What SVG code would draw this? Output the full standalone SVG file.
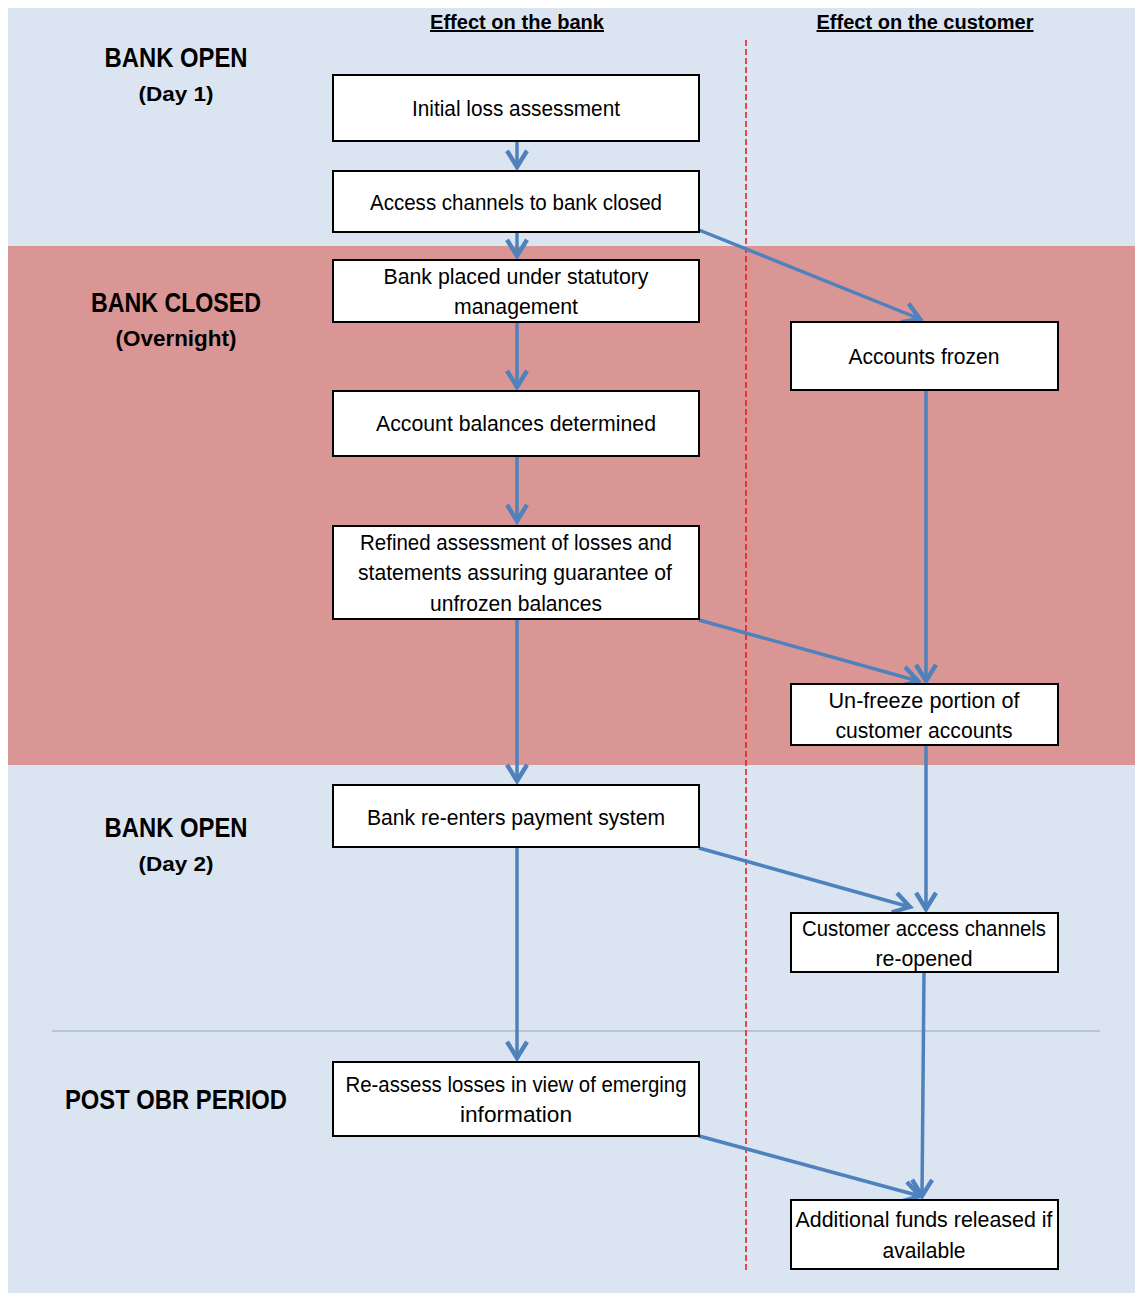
<svg xmlns="http://www.w3.org/2000/svg" width="1135" height="1293" viewBox="0 0 1135 1293">
<style>
.box{fill:#fff;stroke:#000;stroke-width:2}
.t{font-family:"Liberation Sans",Arial,sans-serif;font-size:22px;fill:#000;text-anchor:middle}
.lb{font-family:"Liberation Sans",Arial,sans-serif;font-weight:bold;fill:#000;text-anchor:middle}
.hd{font-family:"Liberation Sans",Arial,sans-serif;font-weight:bold;font-size:20px;fill:#000;text-anchor:middle;text-decoration:underline}
.c{fill:none;stroke:#4F81BD;stroke-width:3.5;marker-end:url(#ah)}
</style>
<defs>
<marker id="ah" markerUnits="userSpaceOnUse" markerWidth="30" markerHeight="30" viewBox="-16 -12 20 24" refX="0" refY="0" orient="auto">
<path d="M-13,-8 L0,0 L-13,8" fill="none" stroke="#4F81BD" stroke-width="3.5" stroke-linejoin="miter"/>
</marker>
</defs>
<rect x="0" y="0" width="1135" height="1293" fill="#fff"/>
<rect x="8" y="8" width="1127" height="1285" fill="#DBE5F1"/>
<rect x="8" y="246" width="1127" height="519" fill="#D99694"/>
<line x1="52" y1="1031" x2="1100" y2="1031" stroke="#9AA6B4" stroke-width="1.2"/>
<line x1="746" y1="40" x2="746" y2="1270" stroke="#E8161B" stroke-width="1.5" stroke-dasharray="6,3"/>

<g id="headers">
<text class="hd" x="517" y="29" textLength="174" lengthAdjust="spacingAndGlyphs">Effect on the bank</text>
<text class="hd" x="925" y="29" textLength="217" lengthAdjust="spacingAndGlyphs">Effect on the customer</text>
</g>
<g id="phase-labels">
<text class="lb" x="176" y="67" font-size="28" textLength="143" lengthAdjust="spacingAndGlyphs">BANK OPEN</text>
<text class="lb" x="176" y="101" font-size="21" textLength="75" lengthAdjust="spacingAndGlyphs">(Day 1)</text>
<text class="lb" x="176" y="312" font-size="28" textLength="170" lengthAdjust="spacingAndGlyphs">BANK CLOSED</text>
<text class="lb" x="176" y="346" font-size="22" textLength="121" lengthAdjust="spacingAndGlyphs">(Overnight)</text>
<text class="lb" x="176" y="837" font-size="28" textLength="143" lengthAdjust="spacingAndGlyphs">BANK OPEN</text>
<text class="lb" x="176" y="871" font-size="21" textLength="75" lengthAdjust="spacingAndGlyphs">(Day 2)</text>
<text class="lb" x="176" y="1109" font-size="28" textLength="222" lengthAdjust="spacingAndGlyphs">POST OBR PERIOD</text>
</g>

<g id="connectors">
<path class="c" d="M517,141 L517,167"/>
<path class="c" d="M517,232 L517,256"/>
<path class="c" d="M517,322 L517,387"/>
<path class="c" d="M517,456 L517,521"/>
<path class="c" d="M517,619 L517,781"/>
<path class="c" d="M517,847 L517,1058"/>
<path class="c" d="M699,230 L920,319"/>
<path class="c" d="M926,390 L926,681"/>
<path class="c" d="M699,620 L918,681"/>
<path class="c" d="M926,745 L926,909"/>
<path class="c" d="M699,848 L910,907"/>
<path class="c" d="M924,972 L922,1196"/>
<path class="c" d="M699,1136 L920,1196"/>
</g>

<g id="n1"><rect class="box" x="333" y="75" width="366" height="66"/><text class="t" x="516" y="116" textLength="208" lengthAdjust="spacingAndGlyphs">Initial loss assessment</text></g>
<g id="n2"><rect class="box" x="333" y="171" width="366" height="61"/><text class="t" x="516" y="210" textLength="292" lengthAdjust="spacingAndGlyphs">Access channels to bank closed</text></g>
<g id="n3"><rect class="box" x="333" y="260" width="366" height="62"/><text class="t" x="516" y="284" textLength="265" lengthAdjust="spacingAndGlyphs">Bank placed under statutory</text><text class="t" x="516" y="314" textLength="124" lengthAdjust="spacingAndGlyphs">management</text></g>
<g id="n4"><rect class="box" x="333" y="391" width="366" height="65"/><text class="t" x="516" y="431" textLength="280" lengthAdjust="spacingAndGlyphs">Account balances determined</text></g>
<g id="n5"><rect class="box" x="333" y="526" width="366" height="93"/><text class="t" x="516" y="550" textLength="312" lengthAdjust="spacingAndGlyphs">Refined assessment of losses and</text><text class="t" x="515" y="580" textLength="314" lengthAdjust="spacingAndGlyphs">statements assuring guarantee of</text><text class="t" x="516" y="611" textLength="172" lengthAdjust="spacingAndGlyphs">unfrozen balances</text></g>
<g id="n6"><rect class="box" x="333" y="785" width="366" height="62"/><text class="t" x="516" y="825" textLength="298" lengthAdjust="spacingAndGlyphs">Bank re-enters payment system</text></g>
<g id="n7"><rect class="box" x="333" y="1062" width="366" height="74"/><text class="t" x="516" y="1092" textLength="341" lengthAdjust="spacingAndGlyphs">Re-assess losses in view of emerging</text><text class="t" x="516" y="1122" textLength="112" lengthAdjust="spacingAndGlyphs">information</text></g>
<g id="c1"><rect class="box" x="791" y="322" width="267" height="68"/><text class="t" x="924" y="364" textLength="151" lengthAdjust="spacingAndGlyphs">Accounts frozen</text></g>
<g id="c2"><rect class="box" x="791" y="684" width="267" height="61"/><text class="t" x="924" y="708" textLength="191" lengthAdjust="spacingAndGlyphs">Un-freeze portion of</text><text class="t" x="924" y="738" textLength="177" lengthAdjust="spacingAndGlyphs">customer accounts</text></g>
<g id="c3"><rect class="box" x="791" y="913" width="267" height="59"/><text class="t" x="924" y="936" textLength="244" lengthAdjust="spacingAndGlyphs">Customer access channels</text><text class="t" x="924" y="966" textLength="97" lengthAdjust="spacingAndGlyphs">re-opened</text></g>
<g id="c4"><rect class="box" x="791" y="1200" width="267" height="69"/><text class="t" x="924" y="1227" textLength="257" lengthAdjust="spacingAndGlyphs">Additional funds released if</text><text class="t" x="924" y="1258" textLength="83" lengthAdjust="spacingAndGlyphs">available</text></g>
</svg>
